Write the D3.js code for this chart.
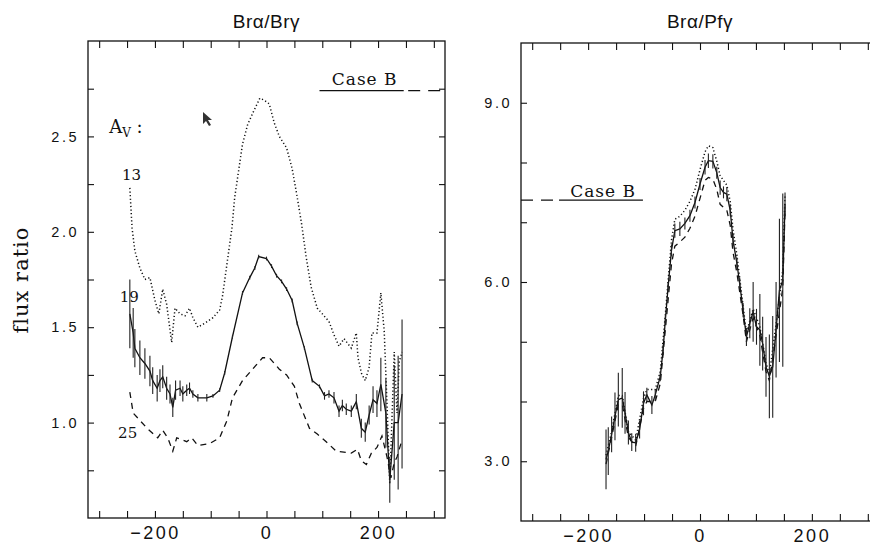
<!DOCTYPE html>
<html lang="en">
<head>
<meta charset="UTF-8">
<script src="https://d3js.org/d3.v7.min.js"></script>
<style>
  body { margin: 0; background: #fff; }
  svg { display: block; background: #fff; }
  .frame { fill: none; stroke: #111; stroke-width: 1.3px; }
  .tick line { stroke: #111; stroke-width: 1.1px; }
  .tick text { font-family: "Liberation Sans", Arial, sans-serif; fill: #111; }
  .solid { fill: none; stroke: #111; stroke-width: 1.3px; }
  .dotted { fill: none; stroke: #111; stroke-width: 1.5px; stroke-dasharray: 1.2 2.4; }
  .dashed { fill: none; stroke: #111; stroke-width: 1.3px; stroke-dasharray: 6 5; }
  .err { stroke: #222; stroke-width: 1.1px; }
  .lbl { font-family: "DejaVu Serif", serif; fill: #111; }
  .title { font-family: "Liberation Sans", Arial, sans-serif; fill: #111; }
</style>
</head>
<body>
<div id="chart"></div>
<script>
// --- left panel: Br alpha / Br gamma ---
const leftSolidVel = [-245,-239,-236,-227,-218,-209,-204,-196,-191,-186,-179,-173,-168,-163,-155,-150,-143,-138,-132,-123,-107,-96,-84,-75,-61,-43,-30,-21,-14,0,9,18,27,36,46,55,68,82,95,104,112,121,130,136,143,152,161,170,177,184,191,198,205,214,221,229,236,243];
const leftSolidRatio = [1.57,1.47,1.39,1.34,1.31,1.27,1.22,1.18,1.22,1.24,1.18,1.15,1.08,1.17,1.18,1.15,1.17,1.18,1.15,1.13,1.13,1.14,1.17,1.26,1.45,1.68,1.76,1.81,1.87,1.86,1.82,1.77,1.74,1.70,1.64,1.52,1.39,1.22,1.19,1.14,1.15,1.13,1.06,1.09,1.07,1.06,1.11,0.97,0.95,1.04,1.12,1.10,1.20,1.05,0.70,1.00,1.00,1.15];
const leftSolidErr = [0.18,0.13,0.10,0.09,0.08,0.08,0.07,0.07,0.06,0.06,0.06,0.05,0.05,0.05,0.04,0.04,0.03,0.03,0.02,0.02,0.02,0.01,0.01,0.01,0.01,0.01,0.01,0.01,0.01,0.01,0.01,0.01,0.01,0.01,0.01,0.01,0.01,0.01,0.01,0.02,0.02,0.03,0.03,0.03,0.03,0.03,0.04,0.05,0.05,0.05,0.07,0.07,0.14,0.18,0.12,0.30,0.35,0.39];

const leftDotVel = [-245,-241,-236,-227,-218,-209,-200,-193,-186,-179,-170,-164,-155,-146,-138,-132,-123,-111,-96,-84,-79,-70,-62,-57,-48,-43,-34,-25,-12,-4,5,14,23,36,46,54,63,71,80,91,100,112,121,130,139,152,161,164,170,177,184,189,198,205,211,216,221,229,234,238,243];
const leftDotRatio = [2.23,2.02,1.90,1.81,1.75,1.76,1.64,1.57,1.70,1.62,1.42,1.60,1.57,1.56,1.60,1.55,1.50,1.52,1.55,1.59,1.66,1.85,2.02,2.18,2.36,2.46,2.56,2.62,2.70,2.69,2.67,2.57,2.50,2.44,2.33,2.20,2.04,1.87,1.71,1.60,1.57,1.53,1.46,1.40,1.44,1.39,1.47,1.34,1.26,1.22,1.29,1.47,1.47,1.68,1.48,1.10,0.68,1.37,1.05,1.32,1.37];

const leftDashVel = [-245,-239,-214,-195,-186,-177,-168,-161,-143,-134,-123,-102,-84,-71,-61,-43,-25,-7,5,23,36,50,59,77,91,107,125,152,163,170,179,188,198,207,216,223,229,234,241];
const leftDashRatio = [1.16,1.05,0.97,0.92,0.96,0.92,0.85,0.92,0.90,0.92,0.88,0.89,0.92,1.01,1.13,1.22,1.28,1.34,1.34,1.28,1.25,1.19,1.10,0.97,0.94,0.90,0.85,0.84,0.86,0.80,0.78,0.84,0.87,0.93,0.82,0.71,0.79,0.82,0.89];

// --- right panel: Br alpha / Pf gamma ---
const rightSolidVel = [-168,-164,-158,-152,-146,-139,-134,-128,-122,-115,-108,-101,-95,-86,-80,-71,-66,-62,-57,-51,-45,-36,-27,-18,-9,0,9,15,23,30,36,42,48,54,59,66,71,77,83,89,95,101,107,112,118,124,130,136,142,148,152];
const rightSolidRatio = [3.03,3.17,3.45,3.75,4.03,4.06,3.81,3.48,3.32,3.31,3.53,3.97,4.11,3.94,4.11,4.42,4.86,5.36,5.92,6.53,6.86,6.89,6.98,7.11,7.33,7.64,7.92,8.03,8.02,7.83,7.58,7.50,7.47,7.20,6.70,6.31,5.97,5.53,5.08,5.31,5.50,5.25,5.20,4.97,4.58,4.42,4.58,5.20,5.86,6.03,7.30];
const rightSolidErr = [0.50,0.40,0.30,0.40,0.45,0.50,0.35,0.20,0.15,0.15,0.15,0.20,0.12,0.15,0.10,0.08,0.08,0.08,0.08,0.10,0.12,0.12,0.10,0.10,0.10,0.10,0.12,0.12,0.12,0.10,0.12,0.10,0.12,0.10,0.10,0.10,0.10,0.12,0.15,0.25,0.50,0.30,0.60,0.45,0.50,0.70,0.85,0.80,1.20,1.45,0.20];

const rightModelVel = [-168,-158,-146,-139,-128,-115,-101,-95,-80,-71,-62,-51,-45,-36,-27,-18,-9,0,9,15,23,30,36,48,54,59,66,77,83,95,107,118,124,136,148,152];
const rightDotRatio = [3.10,3.50,4.10,4.10,3.50,3.35,4.05,4.20,4.20,4.50,5.45,6.70,7.05,7.10,7.20,7.35,7.55,7.88,8.18,8.28,8.25,8.02,7.78,7.62,7.35,6.88,6.45,5.60,5.15,5.55,5.25,4.65,4.45,5.30,6.20,7.45];
const rightDashRatio = [2.95,3.40,3.95,3.95,3.40,3.25,3.88,4.00,4.00,4.30,5.20,6.30,6.60,6.67,6.75,6.90,7.10,7.40,7.70,7.75,7.72,7.55,7.30,7.20,6.95,6.50,6.15,5.45,5.00,5.40,5.10,4.50,4.35,5.10,5.90,7.20];

// axes
const velTicks = [-300,-250,-200,-150,-100,-50,0,50,100,150,200,250,300];
const velLabels = [-200,0,200];
const leftRatioTicks = [0.75,1.0,1.25,1.5,1.75,2.0,2.25,2.5,2.75];
const leftRatioLabels = [1.0,1.5,2.0,2.5];
const rightRatioTicks = [3,4,5,6,7,8,9];
const rightRatioLabels = [3,6,9];

// Case B levels: [ratio, solid from, solid to, dashed from, dashed to]
const caseBLeft = [2.74, 95, 246, 254, 320];
const caseBRight = [7.37, -252, -102, -320, -256];

const W = 870, H = 548;
const svg = d3.select("#chart").append("svg").attr("width", W).attr("height", H);

function panel(o) {
  const x = d3.scaleLinear().domain([-320, 320]).range([o.x0, o.x1]);
  const y = d3.scaleLinear().domain(o.yDomain).range([o.y1, o.y0]);
  const g = svg.append("g");

  g.append("rect").attr("class", "frame")
    .attr("x", o.x0).attr("y", o.y0).attr("width", o.x1 - o.x0).attr("height", o.y1 - o.y0);

  g.append("g").attr("transform", `translate(0,${o.y1})`)
    .call(d3.axisBottom(x).tickValues(velTicks).tickSize(-7).tickPadding(8)
      .tickFormat(d => velLabels.includes(d) ? d3.format("d")(d) : ""))
    .call(a => a.select(".domain").remove())
    .selectAll("text").attr("font-size", 18).attr("letter-spacing", 2.5);
  g.append("g").attr("transform", `translate(0,${o.y0})`)
    .call(d3.axisTop(x).tickValues(velTicks).tickSize(-7).tickFormat(""))
    .call(a => a.select(".domain").remove());
  g.append("g").attr("transform", `translate(${o.x0},0)`)
    .call(d3.axisLeft(y).tickValues(o.yTicks).tickSize(-6).tickPadding(9)
      .tickFormat(d => o.yLabels.includes(d) ? d3.format(".1f")(d) : ""))
    .call(a => a.select(".domain").remove())
    .selectAll("text").attr("font-size", 14.5).attr("letter-spacing", 2.5);
  g.append("g").attr("transform", `translate(${o.x1},0)`)
    .call(d3.axisRight(y).tickValues(o.yTicks).tickSize(-6).tickFormat(""))
    .call(a => a.select(".domain").remove());

  const line = d3.line().x(d => x(d[0])).y(d => y(d[1]));
  const zip = (a, b) => a.map((v, i) => [v, b[i]]);

  g.append("path").attr("class", "dotted").attr("d", line(zip(o.dotVel, o.dotRatio)));
  g.append("path").attr("class", "dashed").attr("d", line(zip(o.dashVel, o.dashRatio)));
  g.append("path").attr("class", "solid").attr("d", line(zip(o.solidVel, o.solidRatio)));
  g.selectAll(".err").data(o.solidVel.map((v, i) => [v, o.solidRatio[i], o.solidErr[i]]))
    .join("line").attr("class", "err")
    .attr("x1", d => x(d[0])).attr("x2", d => x(d[0]))
    .attr("y1", d => y(d[1] - d[2])).attr("y2", d => y(d[1] + d[2]));

  // Case B
  const cb = o.caseB;
  g.append("line").attr("class", "solid")
    .attr("x1", x(cb[1])).attr("x2", x(cb[2])).attr("y1", y(cb[0])).attr("y2", y(cb[0]));
  g.append("line").attr("class", "solid").attr("stroke-dasharray", "12 8")
    .attr("x1", x(cb[3])).attr("x2", x(cb[4])).attr("y1", y(cb[0])).attr("y2", y(cb[0]));
  g.append("text").attr("class", "lbl").attr("font-size", 17).attr("letter-spacing", 1)
    .attr("x", x(o.caseBText[0])).attr("y", y(o.caseBText[1])).text("Case B");

  g.append("text").attr("class", "title").attr("font-size", 19).attr("letter-spacing", 0.5)
    .attr("text-anchor", "middle").attr("x", x(0)).attr("y", 28).text(o.title);
  return { x, y, g };
}

const L = panel({
  x0: 88, x1: 445, y0: 41, y1: 518, yDomain: [0.5, 3.0],
  yTicks: leftRatioTicks, yLabels: leftRatioLabels,
  solidVel: leftSolidVel, solidRatio: leftSolidRatio, solidErr: leftSolidErr,
  dotVel: leftDotVel, dotRatio: leftDotRatio, dashVel: leftDashVel, dashRatio: leftDashRatio,
  caseB: caseBLeft, caseBText: [117, 2.77], title: "Brα/Brγ"
});
panel({
  x0: 521, x1: 879, y0: 43, y1: 521, yDomain: [2, 10],
  yTicks: rightRatioTicks, yLabels: rightRatioLabels,
  solidVel: rightSolidVel, solidRatio: rightSolidRatio, solidErr: rightSolidErr,
  dotVel: rightModelVel, dotRatio: rightDotRatio, dashVel: rightModelVel, dashRatio: rightDashRatio,
  caseB: caseBRight, caseBText: [-232, 7.43], title: "Brα/Pfγ"
});

// A_V annotations (left panel)
const av = L.g.append("text").attr("class", "lbl").attr("font-size", 18)
  .attr("x", L.x(-282)).attr("y", L.y(2.516));
av.append("tspan").text("A");
av.append("tspan").attr("font-size", 12).attr("dy", 4).text("V");
av.append("tspan").attr("dy", -4).text(" :");
[["13", -259, 2.27], ["19", -263, 1.63], ["25", -266, 0.92]].forEach(([t, v, r]) => {
  L.g.append("text").attr("class", "lbl").attr("font-size", 15)
    .attr("x", L.x(v)).attr("y", L.y(r)).text(t);
});

// y axis title
svg.append("text").attr("class", "lbl").attr("font-size", 21).attr("letter-spacing", 1)
  .attr("text-anchor", "middle")
  .attr("transform", "translate(28,280) rotate(-90)").text("flux ratio");

// stray cursor in the scan
svg.append("path").attr("fill", "#333")
  .attr("d", "M203,112 l0,12 l3,-3 l3,5 l2,-1 l-3,-5 l4,0 z");
</script>
</body>
</html>
